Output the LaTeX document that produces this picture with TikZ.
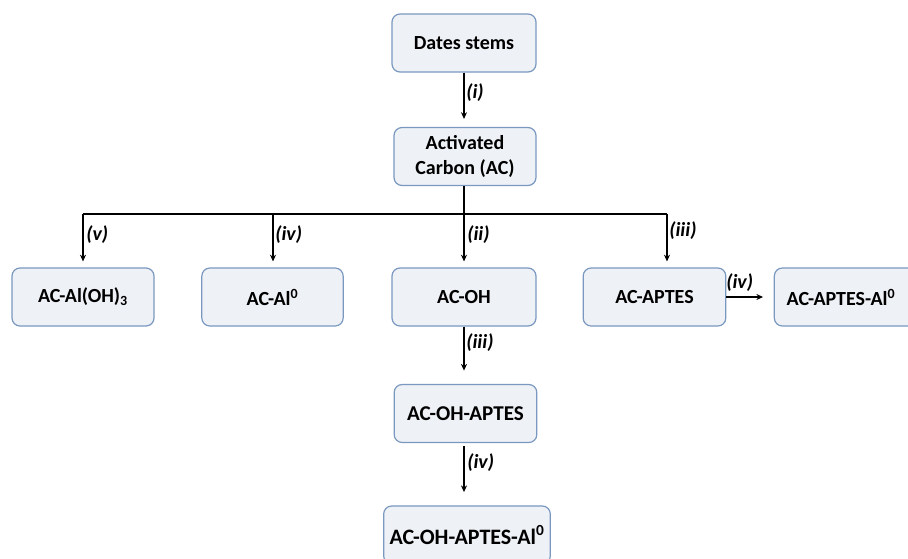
\documentclass[tikz,border=0pt]{standalone}
\usepackage{fontspec}
\setmainfont{Carlito}
\usetikzlibrary{arrows.meta}
\definecolor{boxfill}{RGB}{238,241,246}
\definecolor{boxline}{RGB}{122,152,192}
\begin{document}
\begin{tikzpicture}[x=0.75pt,y=-0.75pt,
  box/.style={draw=boxline,fill=boxfill,line width=0.9pt,rounded corners=6pt,
    minimum height=43.5pt,align=center,inner sep=2pt,
    font=\fontsize{15}{17}\selectfont\bfseries},
  lab/.style={font=\fontsize{15}{17}\selectfont\bfseries\itshape,inner sep=0pt},
  arr/.style={line width=0.8pt,-{Stealth[length=5pt,width=4.5pt]}},
  ln/.style={line width=0.8pt}]
\useasboundingbox (0,0) rectangle (908,558);
\clip (0,0) rectangle (908,558);
\fill[white] (0,0) rectangle (908,558);
\node[box,minimum width=108pt] (ds) at (464,43) {Dates stems};
\node[box,minimum width=106.5pt,font=\fontsize{15}{19}\selectfont\bfseries] (ac) at (465,156.5) {Activated\\Carbon (AC)};
\node[box,minimum width=106.5pt] (aloh) at (83,297) {AC-Al(OH)\textsubscript{3}};
\node[box,minimum width=106pt] (al) at (272.5,297) {AC-Al\textsuperscript{0}};
\node[box,minimum width=108pt] (oh) at (464,297) {AC-OH};
\node[box,minimum width=107pt] (ap) at (654.5,297) {AC-APTES};
\node[box,minimum width=106pt,text width=90pt] (apal) at (845,297) {\hspace*{-6pt}AC-APTES-Al\textsuperscript{0}};
\node[box,minimum width=107pt,font=\fontsize{15.8}{18}\selectfont\bfseries] (ohap) at (465.5,413.5) {AC-OH-APTES};
\node[box,minimum width=125pt,font=\fontsize{16.5}{19}\selectfont\bfseries] (fin) at (467,535) {AC-OH-APTES-Al\textsuperscript{0}};
% connectors
\coordinate (j) at (464,214);
\coordinate (j1) at (83,214);
\coordinate (j2) at (273,214);
\coordinate (j4) at (667,214);
\draw[arr,shorten >=6pt] (ds.south) -- (ac.north -| ds.south);
\draw[ln] (ac.south -| j) -- (j);
\draw[ln] (j1) -- (j4);
\draw[arr,shorten >=4.5pt] (j1) -- (j1 |- aloh.north);
\draw[arr,shorten >=4.5pt] (j2) -- (j2 |- al.north);
\draw[arr,shorten >=4.5pt] (j) -- (j |- oh.north);
\draw[arr,shorten >=4.5pt] (j4) -- (j4 |- ap.north);
\draw[arr,shorten >=8pt] (ap.east) -- (apal.west |- ap.east);
\draw[arr,shorten >=10pt] (oh.south -| j) -- (j |- ohap.north);
\draw[arr,shorten >=10pt,shorten <=2pt] (ohap.south -| j) -- (j |- fin.north);
% labels
\node[lab,anchor=west] (li) at (466,93) {(i)};
\node[lab,anchor=west] (lv) at (86,235) {(v)};
\node[lab,anchor=west] (liv) at (275,235) {(iv)};
\node[lab,anchor=west] (lii) at (467,235) {(ii)};
\node[lab,anchor=west] (liii) at (669,231) {(iii)};
\node[lab,anchor=west] (liv2) at (726,283) {(iv)};
\node[lab,anchor=west] (liii2) at (466,343) {(iii)};
\node[lab,anchor=west] (liv3) at (467,463) {(iv)};
\end{tikzpicture}
\end{document}
